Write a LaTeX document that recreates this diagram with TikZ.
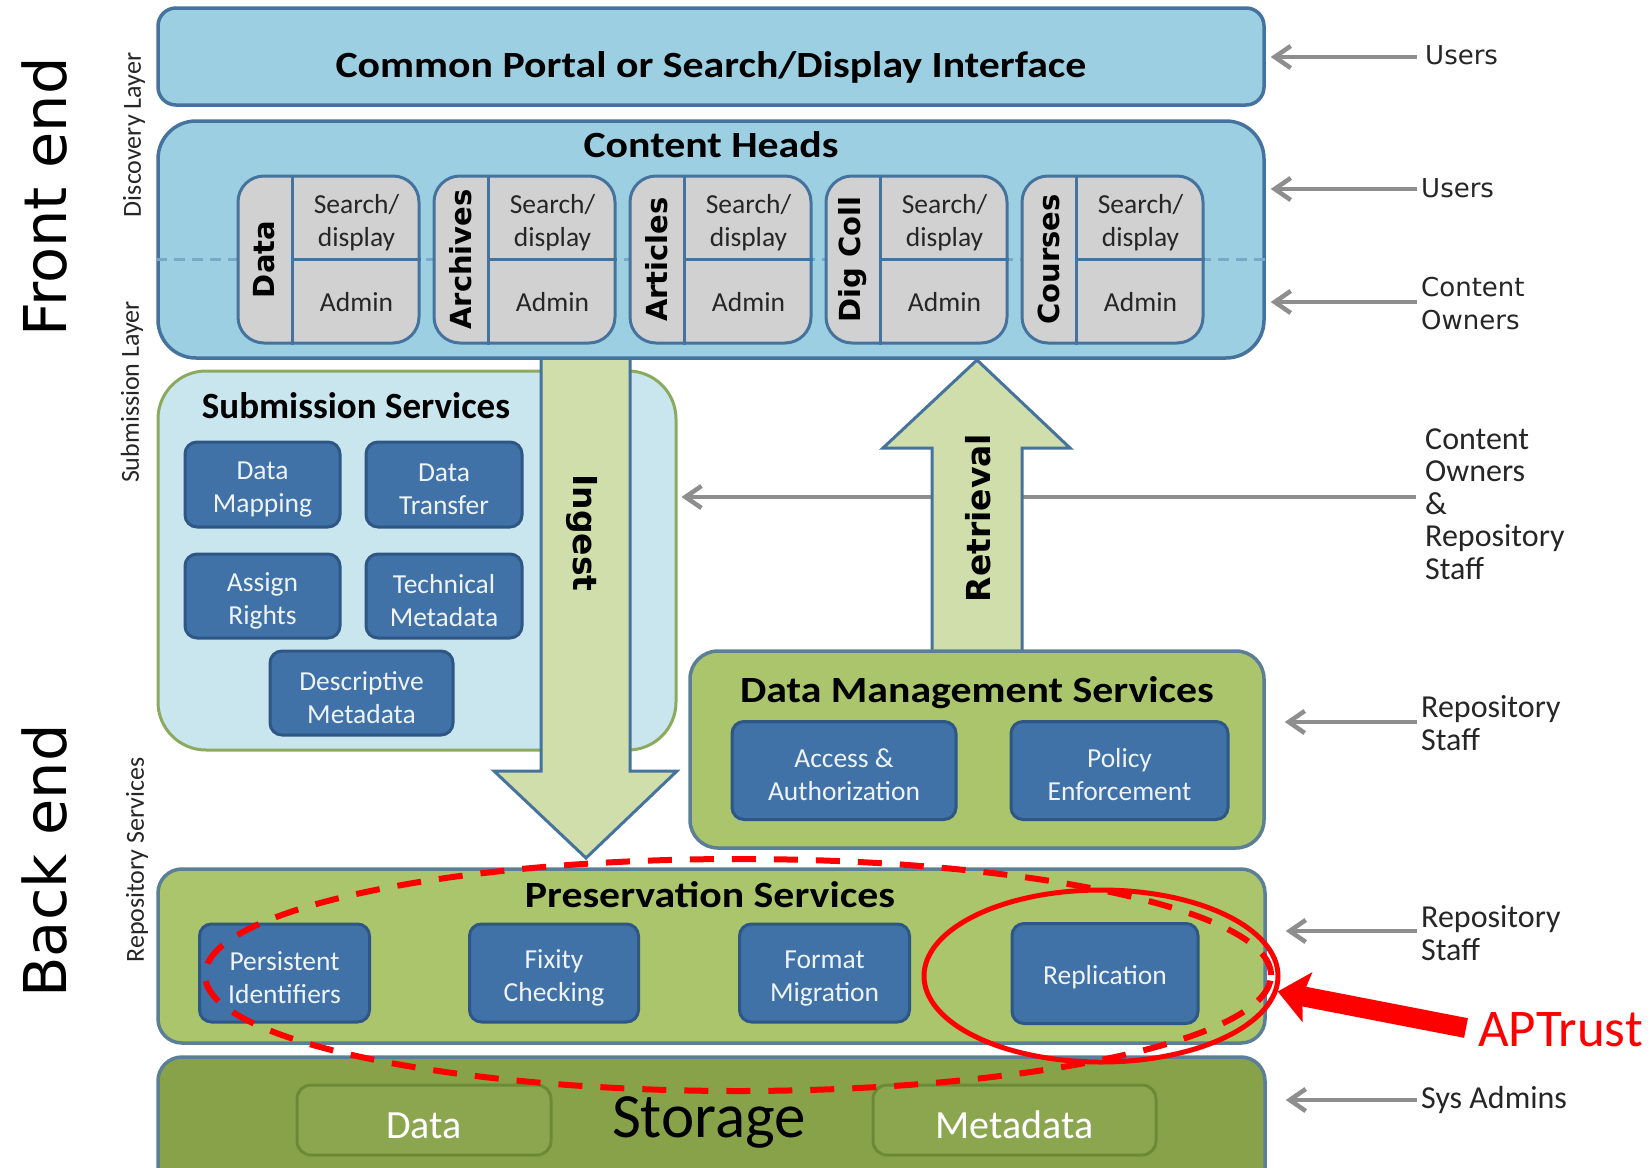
\documentclass[tikz,border=0pt]{standalone}
\usepackage{fontspec}
\setmainfont{Carlito}
\newfontfamily\verd{DejaVu Sans}
\usetikzlibrary{arrows.meta,calc,shapes.geometric}

\definecolor{portalfill}{HTML}{9DCFE2}
\definecolor{bluedge}{HTML}{45739E}
\definecolor{headfill}{HTML}{D1D1D1}
\definecolor{subfill}{HTML}{C9E5ED}
\definecolor{subedge}{HTML}{8CAA5E}
\definecolor{flowfill}{HTML}{CFDEAB}
\definecolor{svcfill}{HTML}{4071A7}
\definecolor{svcedge}{HTML}{2E5786}
\definecolor{svctext}{HTML}{EEF3F8}
\definecolor{greenfill}{HTML}{AAC56B}
\definecolor{greenedge}{HTML}{5B7F97}
\definecolor{storfill}{HTML}{87A249}
\definecolor{storinner}{HTML}{8BA64E}
\definecolor{storedge}{HTML}{6C8A36}
\definecolor{usergray}{HTML}{8E8E8E}
\definecolor{dashblue}{HTML}{78A9C9}
\definecolor{aptred}{HTML}{FF0000}

\begin{document}
\begin{tikzpicture}[x=1pt,y=-1pt,
  layerbox/.style={draw=bluedge, fill=portalfill, line width=3.5pt, inner sep=0pt},
  subbox/.style={draw=subedge, fill=subfill, line width=3pt, inner sep=0pt},
  greenbox/.style={draw=greenedge, fill=greenfill, line width=3.5pt, inner sep=0pt},
  storbox/.style={draw=greenedge, fill=storfill, line width=3.5pt, inner sep=0pt},
  storcell/.style={draw=storedge, fill=storinner, line width=3pt, rounded corners=14pt,
    inner sep=0pt, text=white, font=\fontsize{40}{48}\selectfont,
    execute at begin node={\rule{0pt}{38pt}}},
  headbox/.style={draw=bluedge, fill=headfill, line width=3pt, rounded corners=26pt,
    minimum width=181pt, minimum height=167pt, inner sep=0pt},
  headsplit/.style={draw=bluedge, line width=3pt},
  dashline/.style={draw=dashblue, line width=3.5pt, dash pattern=on 11pt off 7pt},
  headlbl/.style={font=\verd\bfseries\fontsize{29}{34}\selectfont, rotate=90, inner sep=0pt},
  celltxt/.style={font=\fontsize{27.5}{33}\selectfont, align=center, inner sep=0pt, text=black!85},
  svcbase/.style={draw=svcedge, fill=svcfill, line width=3pt, rounded corners=12pt,
    text=svctext, align=center, font=\fontsize{27.5}{33}\selectfont, inner sep=0pt},
  svc/.style={svcbase, execute at begin node={\rule{0pt}{61pt}}},
  svcone/.style={svcbase, execute at begin node={\rule{0pt}{26pt}}},
  flow/.style={draw=bluedge, fill=flowfill, line width=3pt, line join=miter},
  flowlbl/.style={font=\verd\bfseries\fontsize{33}{38}\selectfont, inner sep=0pt},
  ttl/.style={font=\bfseries\fontsize{37}{44}\selectfont, anchor=base, inner sep=0pt, xscale=1.13},
  layerlbl/.style={font=\fontsize{26}{30}\selectfont, rotate=90, inner sep=0pt, text=black!85},
  endlbl/.style={font=\verd\fontsize{59}{66}\selectfont, rotate=90, inner sep=0pt},
  rlabelv/.style={anchor=west, align=left, inner sep=0pt, font=\verd\fontsize{26}{33}\selectfont, text=black!85},
  rlabel/.style={anchor=west, align=left, inner sep=0pt, font=\fontsize{32}{32.5}\selectfont, text=black!85},
  userarrow/.style={draw=usergray, line width=4.5pt, -{Straight Barb[length=16pt,width=22pt]}}
]
\useasboundingbox (0,0) rectangle (1651,1167);
\clip (0,0) rectangle (1651,1167);
\fill[white] (0,0) rectangle (1651,1167);

% ---- side captions ----
\node[endlbl] (lfront) at (45,197) {Front end};
\node[endlbl] (lback) at (45,861) {Back end};
\node[layerlbl] (ldisc) at (134,135) {Discovery Layer};
\node[layerlbl] (lsub) at (132,392) {Submission Layer};
\node[layerlbl] (lrep) at (137,860) {Repository Services};

% ---- portal layer ----
\node[layerbox, rounded corners=18pt, minimum width=1106pt, minimum height=97pt] (portal) at (711,56.5) {};
\node[ttl] (tportal) at (711,77) {Common Portal or Search/Display Interface};

% ---- submission services ----
\node[subbox, rounded corners=48pt, minimum width=518pt, minimum height=379pt] (sub) at (417,560.5) {};
\node[ttl, xscale=1/1.13] (tsub) at (356,418) {Submission Services};
\node[svc, minimum width=155pt, minimum height=85pt] (dmap) at (262.5,484.5) {Data\\Mapping};
\node[svc, minimum width=156pt, minimum height=85pt] (dtrans) at (444,484.5) {Data\\Transfer};
\node[svc, minimum width=155pt, minimum height=84pt] (arights) at (262.5,596) {Assign\\Rights};
\node[svc, minimum width=156pt, minimum height=84pt] (techm) at (444,596) {Technical\\Metadata};
\node[svc, minimum width=183pt, minimum height=84pt] (descm) at (361.5,693) {Descriptive\\Metadata};

% ---- ingest block arrow ----
\draw[flow] (541,345) -- (630,345) -- (630,771) -- (677,771) -- (586,858) -- (494,771) -- (541,771) -- cycle;
\node[flowlbl, rotate=-90] (ingT) at (582,533) {Ingest};

% ---- content heads ----
\node[layerbox, rounded corners=38pt, minimum width=1106pt, minimum height=237pt] (heads) at (711,239.5) {};
\node[ttl] (theads) at (711,157) {Content Heads};
\draw[dashline] ([yshift=-20pt]heads.west) -- ([yshift=-20pt]heads.east);
\foreach \nm [count=\i from 0] in {Data,Archives,Articles,Dig Coll,Courses}{
  \node[headbox] (hb\i) at (328.5+196*\i,259.5) {};
  \draw[headsplit] ([xshift=56pt]hb\i.north west) -- ([xshift=56pt]hb\i.south west);
  \draw[headsplit] ([xshift=56pt]hb\i.west) -- (hb\i.east);
  \node[headlbl] (hl\i) at ([xshift=28pt]hb\i.west) {\nm};
  \node[celltxt] (hs\i) at (356.5+196*\i,223) {Search/\\display};
  \node[celltxt] (ha\i) at (356.5+196*\i,302) {Admin};
}

% ---- actors on the right ----
\node[rlabelv] (u1) at (1425,55) {Users};
\node[rlabelv] (u2) at (1421,188) {Users};
\node[rlabelv] (co) at (1421,304) {Content\\Owners};
\node[rlabel] (cors) at (1425,504) {Content\\Owners\\\&\\Repository\\Staff};
\node[rlabel] (rs1) at (1421,723) {Repository\\Staff};
\node[rlabel] (rs2) at (1421,933) {Repository\\Staff};
\node[rlabel] (sa) at (1421,1100) {Sys Admins};

\draw[userarrow] ($(u1.west)+(-8,2)$) -- ($(u1.west -| portal.east)+(5,2)$);
\draw[userarrow] ($(u2.west)+(-4,1)$) -- ($(u2.west -| heads.east)+(5,1)$);
\draw[userarrow] ($(co.west)+(-4,-2)$) -- ($(co.west -| heads.east)+(5,-2)$);
\draw[userarrow] ($(cors.west)+(-9,-7)$) -- ($(cors.west -| sub.east)+(4,-7)$);

% ---- retrieval block arrow ----
\draw[flow] (932,656) -- (932,448) -- (883,448) -- (977,360) -- (1070,448) -- (1022,448) -- (1022,656) -- cycle;
\node[flowlbl, rotate=90] (retT) at (978,518) {Retrieval};

% ---- data management services ----
\node[greenbox, rounded corners=28pt, minimum width=574pt, minimum height=197pt] (dms) at (977,749.5) {};
\node[ttl] (tdms) at (977,702) {Data Management Services};
\node[svc, minimum width=224pt, minimum height=98pt] (acc) at (844,770.5) {Access \&\\Authorization};
\node[svc, minimum width=217pt, minimum height=98pt] (pol) at (1119.5,770.5) {Policy\\Enforcement};

% ---- preservation services ----
\node[greenbox, rounded corners=24pt, minimum width=1107pt, minimum height=174pt] (pres) at (711.5,956) {};
\node[ttl] (tpres) at (710,907) {Preservation Services};
\node[svc, minimum width=170pt, minimum height=98pt] (pid) at (284.5,973) {Persistent\\Identifiers};
\node[svc, minimum width=169pt, minimum height=98pt] (fix) at (554,973) {Fixity\\Checking};
\node[svc, minimum width=170pt, minimum height=98pt] (fmt) at (824.5,973) {Format\\Migration};
\node[svcone, minimum width=186pt, minimum height=100pt] (rep) at (1105,973.5) {Replication};

% ---- storage ----
\node[storbox, rounded corners=24pt, minimum width=1107pt, minimum height=150pt] (stor) at (711.5,1132) {};
\node[storcell, minimum width=254pt, minimum height=70pt] (sdata) at (424,1120) {Data};
\node[storcell, minimum width=283pt, minimum height=70pt] (smeta) at (1014.5,1120) {Metadata};
\node[anchor=base, inner sep=0pt, font=\fontsize{63}{70}\selectfont] (tstor) at (709,1137) {Storage};

\draw[userarrow] ($(rs1.west)+(-4,-1)$) -- ($(rs1.west -| dms.east)+(19,-1)$);
\draw[userarrow] ($(rs2.west)+(-4,-2)$) -- ($(rs2.west -| pres.east)+(19,-2)$);
\draw[userarrow] ($(sa.west)+(-4,0)$) -- ($(sa.west -| stor.east)+(19,0)$);

% ---- APTrust highlight ----
\node[draw=aptred, line width=6pt, dash pattern=on 24pt off 18pt, ellipse,
  minimum width=1066pt, minimum height=232pt, inner sep=0pt] (presring) at (738,975) {};
\node[draw=aptred, line width=5pt, ellipse,
  minimum width=354pt, minimum height=172pt, inner sep=0pt] (repring) at (1101,976) {};
\node[anchor=west, text=aptred, font=\fontsize{53}{60}\selectfont, inner sep=0pt] (apt) at (1478,1030) {APTrust};
\draw[aptred, line width=20pt, -{Stealth[length=30pt,width=50pt,inset=5pt]}] ($(apt.west)+(-12,-2)$) -- (repring.-5);
\end{tikzpicture}
\end{document}
